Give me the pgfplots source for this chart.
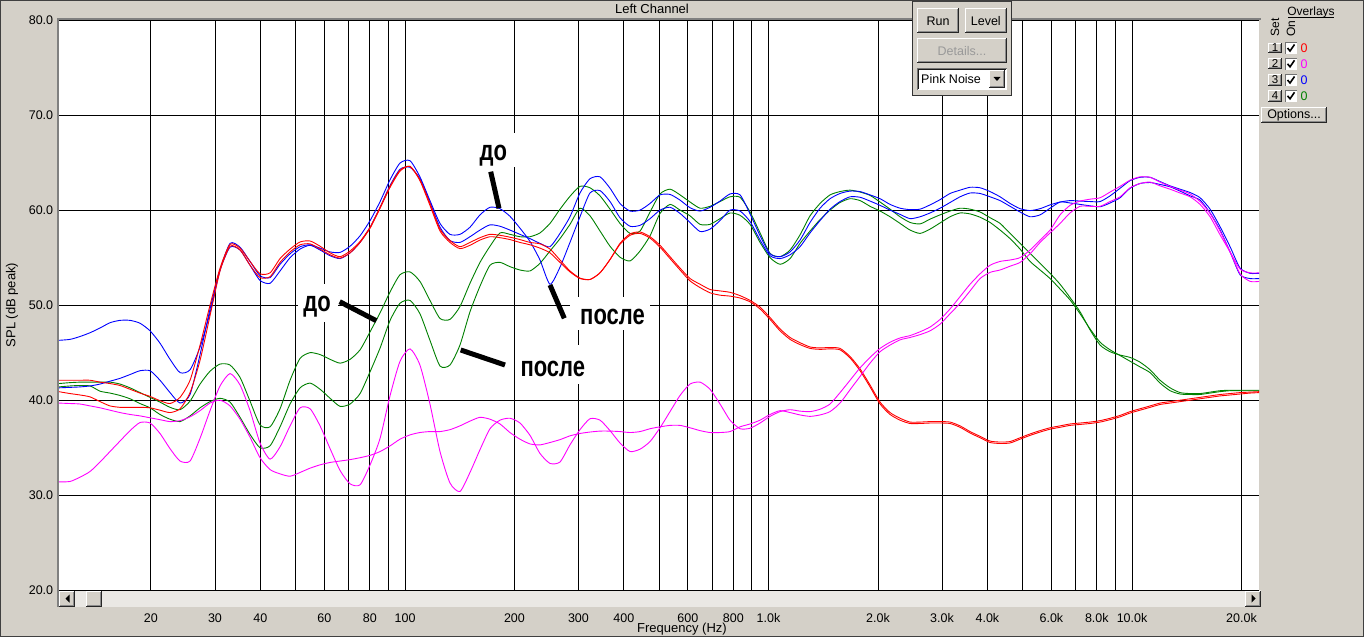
\documentclass[border=0pt]{standalone}
\usepackage{fontspec}
\setmainfont{Liberation Sans}
\usepackage{pgfplots}
\usepackage{pgfplotstable}
\pgfplotsset{compat=1.18}

\definecolor{winbg}{HTML}{D4D0C8}
\definecolor{scrollbg}{HTML}{EAE8E4}
\definecolor{mgreen}{HTML}{008000}
\definecolor{mmag}{HTML}{FF00FF}
\definecolor{mblue}{HTML}{0000FF}
\definecolor{mred}{HTML}{FF0000}

\pgfplotstableread{
f R1 R2 BA BB G1 G2 M1 M2
11.15 42.1 40.9 46.3 41.3 41.75 41.4 39.7 31.4
11.98 42.1 40.7 46.4 41.35 41.85 41.5 39.65 31.45
12.76 42.1 40.55 46.7 41.4 41.9 41.55 39.6 31.9
13.60 42.1 40.35 47.1 41.5 41.9 41.5 39.4 32.5
14.49 41.9 39.85 47.6 41.7 41.9 40.95 39.2 33.5
15.43 41.75 39.4 48.15 42.0 41.9 40.75 38.95 34.6
16.44 41.55 39.25 48.4 42.3 41.7 40.5 38.7 35.7
17.52 41.15 39.25 48.4 42.7 41.3 40.15 38.5 36.8
18.66 40.75 39.25 48.1 43.1 40.8 39.65 38.35 37.65
19.89 40.4 39.2 47.3 43.1 40.3 39.2 38.15 37.6
21.18 39.95 38.95 46.0 42.1 39.8 38.5 37.95 36.5
22.57 39.65 38.7 44.3 40.8 39.25 38.0 37.75 34.9
24.05 40.3 39.1 42.9 39.7 39.0 37.75 37.85 33.6
25.62 42.1 40.8 43.2 40.6 39.9 38.35 38.25 33.6
27.30 45.8 44.2 45.6 44.8 41.7 39.2 38.9 36.0
29.08 50.0 48.9 49.2 49.6 43.05 39.85 39.7 38.9
30.98 53.9 53.6 53.7 53.7 43.8 40.2 40.0 41.5
33.01 56.4 56.2 56.5 56.1 43.7 39.8 39.4 42.8
35.17 56.0 55.8 56.1 55.8 42.4 38.2 38.0 41.6
37.47 54.6 54.2 54.6 54.2 39.9 36.4 36.1 38.9
39.92 53.3 52.9 53.1 52.6 37.4 35.0 33.95 35.5
42.53 53.4 53.0 52.9 52.3 37.2 35.2 32.7 33.8
45.31 54.9 54.5 54.3 53.6 39.1 37.2 32.25 35.1
48.28 55.9 55.6 55.4 55.0 42.1 39.6 32.0 37.3
51.44 56.65 56.35 56.15 55.9 44.4 41.3 32.4 39.2
54.80 56.75 56.45 56.35 56.3 45.0 41.8 32.85 39.1
58.39 56.2 55.9 56.0 55.8 44.8 41.15 33.2 37.3
62.21 55.5 55.3 55.6 55.2 44.3 40.2 33.45 34.9
66.28 55.1 54.95 55.55 54.9 43.9 39.35 33.6 32.6
70.61 55.7 55.5 56.2 55.5 44.3 39.6 33.75 31.2
75.23 56.7 56.6 57.3 56.6 45.3 40.7 33.95 31.1
80.15 58.2 58.1 58.9 58.2 47.2 43.0 34.2 33.2
85.40 60.3 60.2 60.9 60.3 49.2 45.5 34.6 36.0
90.98 62.5 62.4 63.2 62.6 51.4 48.4 35.2 40.5
96.88 64.2 64.1 64.95 64.3 53.2 50.2 35.9 44.1
103.2 64.6 64.6 65.2 64.5 53.5 50.5 36.35 45.4
109.9 63.2 63.1 63.5 63.3 52.5 49.1 36.6 43.7
117.1 60.7 60.5 61.0 60.8 50.5 46.3 36.7 39.6
124.8 58.0 57.8 58.6 58.2 48.6 43.6 36.7 34.6
132.9 56.8 56.6 57.45 56.8 48.5 43.7 36.9 31.3
141.6 56.15 55.95 57.45 56.6 49.85 45.8 37.3 30.4
150.9 56.6 56.3 58.2 57.2 52.3 49.3 37.8 32.4
160.8 57.1 56.85 59.5 57.9 54.5 52.0 38.2 34.8
171.3 57.45 57.2 60.3 58.45 56.2 54.2 38.0 37.0
182.5 57.35 57.1 60.15 58.3 57.6 54.5 37.5 37.9
194.4 57.15 56.9 59.35 57.9 57.45 54.05 36.6 38.1
207.1 56.9 56.6 58.1 57.45 57.2 53.7 35.9 37.6
220.7 56.6 56.35 56.7 57.0 57.2 53.6 35.4 36.3
235.1 56.45 56.0 54.75 56.5 57.6 54.4 35.3 34.4
250.5 55.9 55.5 52.2 56.15 58.6 55.7 35.55 33.35
266.9 54.75 54.5 54.0 57.55 60.1 57.0 35.85 33.5
284.3 53.6 53.5 56.6 59.3 61.45 58.5 36.25 35.3
302.9 52.85 52.8 59.3 61.8 62.5 60.2 36.5 36.9
322.7 52.7 52.7 61.8 63.3 62.35 59.4 36.65 38.05
343.9 53.4 53.4 62.05 63.5 61.5 57.8 36.75 37.9
366.4 54.8 54.8 60.9 62.3 60.1 56.2 36.75 36.8
390.3 56.5 56.4 59.2 60.7 58.6 55.05 36.7 35.5
415.9 57.5 57.35 58.3 59.9 57.55 54.65 36.6 34.6
443.1 57.7 57.55 58.4 60.0 57.8 55.7 36.7 34.85
472.1 57.2 57.05 59.1 60.7 59.8 57.3 37.0 35.65
502.9 56.3 56.1 60.0 61.6 61.7 59.65 37.2 37.1
535.8 55.1 54.9 60.3 61.65 62.2 60.6 37.35 38.8
570.9 53.9 53.7 59.65 61.05 61.6 60.0 37.35 40.5
608.2 52.8 52.55 58.7 60.25 60.85 59.4 37.1 41.7
648.0 52.2 51.85 57.75 59.9 60.2 58.5 36.8 41.9
690.4 51.65 51.3 58.0 60.3 60.4 58.5 36.6 41.15
735.5 51.5 51.05 58.9 60.95 60.9 59.1 36.6 39.6
783.6 51.35 50.95 60.0 61.7 61.4 59.7 36.7 37.9
834.9 51.0 50.75 59.9 61.6 61.35 59.45 37.2 37.0
889.5 50.5 50.35 58.8 59.6 59.8 58.5 37.5 37.05
947.7 49.8 49.6 56.85 57.3 57.6 56.6 37.9 37.6
1009.6 48.7 48.5 55.2 55.4 55.45 55.0 38.5 38.3
1075.6 47.5 47.3 54.9 55.1 55.1 54.3 38.9 38.8
1146.0 46.6 46.4 55.3 55.6 55.8 54.9 38.7 39.0
1220.9 46.05 45.85 56.15 56.85 57.4 56.5 38.45 38.85
1300.8 45.6 45.45 57.6 58.7 59.4 57.8 38.3 38.8
1385.8 45.5 45.35 58.9 60.2 60.7 59.0 38.45 39.05
1476.5 45.55 45.4 60.1 61.2 61.6 60.0 38.8 39.6
1573.0 45.45 45.3 60.9 61.75 61.95 60.8 39.7 40.8
1675.9 44.6 44.45 61.4 62.0 62.1 61.2 41.1 42.1
1785.5 43.3 43.1 61.35 61.95 61.9 61.0 42.5 43.4
1902.3 41.6 41.4 60.95 61.6 61.55 60.4 43.9 44.5
2026.7 39.8 39.6 60.5 61.2 60.85 59.9 45.1 45.45
2159.2 38.7 38.5 60.0 60.6 60.1 59.3 45.8 46.1
2300.4 38.1 37.9 59.55 60.2 59.3 58.6 46.35 46.55
2450.9 37.7 37.55 59.1 60.05 58.7 57.9 46.6 46.8
2611.2 37.7 37.55 59.3 60.1 58.55 57.55 46.9 47.2
2781.9 37.75 37.6 59.7 60.55 59.05 58.0 47.3 47.7
2963.9 37.75 37.6 60.2 61.1 59.5 58.65 48.0 48.5
3157.7 37.7 37.55 60.8 61.75 59.9 59.3 49.1 49.6
3364.2 37.3 37.15 61.4 62.1 60.2 59.7 50.2 50.9
3584.2 36.7 36.55 61.8 62.4 60.1 59.6 51.5 52.2
3818.6 36.2 36.05 61.75 62.35 59.8 59.25 52.8 53.3
4068.3 35.7 35.55 61.4 61.95 59.2 58.7 53.45 54.2
4334.4 35.6 35.45 61.0 61.4 58.6 57.9 53.7 54.6
4617.9 35.65 35.5 60.4 60.7 57.55 57.0 54.1 54.75
4919.9 36.05 35.9 59.8 60.15 56.5 55.9 54.5 55.0
5241.6 36.45 36.3 59.3 59.95 55.45 54.6 55.4 55.8
5584.4 36.8 36.65 59.5 60.15 54.4 53.7 56.6 56.85
5949.6 37.1 36.95 60.2 60.55 53.35 52.8 57.6 57.9
6338.7 37.3 37.15 60.85 60.85 52.2 51.7 58.6 59.5
6753.2 37.5 37.35 60.75 61.0 50.8 50.55 59.7 60.5
7194.9 37.6 37.45 60.6 60.95 49.3 49.1 60.4 60.95
7665.4 37.7 37.55 60.45 60.9 47.4 47.5 60.4 61.15
8166.7 37.85 37.7 60.35 60.9 45.8 46.1 60.4 61.3
8700.8 38.1 37.95 60.75 61.5 45.1 45.3 60.9 61.9
9269.8 38.4 38.25 61.3 62.3 44.75 44.7 61.4 62.5
9876.0 38.8 38.65 62.3 63.1 44.5 44.1 62.35 63.15
10522 39.1 38.95 62.8 63.45 44.0 43.5 62.8 63.5
11210 39.4 39.25 62.9 63.45 43.2 42.9 62.95 63.45
11943 39.7 39.55 62.7 63.0 42.1 41.8 62.55 62.95
12724 39.85 39.7 62.45 62.55 41.3 41.0 62.2 62.5
13556 40.0 39.85 62.0 62.2 40.8 40.65 61.8 62.1
14443 40.15 40.0 61.5 61.85 40.7 40.6 61.4 61.7
15387 40.3 40.15 61.05 61.3 40.7 40.6 60.6 60.9
16394 40.45 40.3 59.7 60.1 40.85 40.75 59.3 59.65
17466 40.6 40.45 57.9 58.25 41.0 40.9 57.4 57.8
18608 40.7 40.55 55.6 56.15 41.05 41.0 55.6 55.6
19825 40.8 40.65 53.2 53.9 41.05 41.0 53.8 53.3
21122 40.85 40.75 52.8 53.35 41.05 41.0 53.4 52.5
22360 40.9 40.8 52.8 53.35 41.05 41.0 53.4 52.5
}\spldata

\newcommand{\rbtn}[4]{%
  \fill[winbg] (#1,#2) rectangle (#3,#4);
  \draw[white, line width=1pt] (#1+0.5,#2+1) -- (#1+0.5,#4-0.5) -- (#3-1,#4-0.5);
  \draw[black!45, line width=1pt] (#1+1,#2+1.5) -- (#3-1.5,#2+1.5) -- (#3-1.5,#4-1);
  \draw[black!85, line width=1pt] (#1,#2+0.5) -- (#3-0.5,#2+0.5) -- (#3-0.5,#4);
}

\begin{document}
\begin{tikzpicture}[x=1pt,y=1pt]
\fill[winbg] (0,0) rectangle (1364,637);
% scrollbar
\fill[scrollbg] (58.7,30.5) rectangle (1261,46.7);
\rbtn{59}{30.5}{75}{46.5}
\fill[black] (65.5,38.5) -- (69.5,42.5) -- (69.5,34.5) -- cycle;
\rbtn{86}{30.5}{102}{46.5}
\rbtn{1245}{30.5}{1261}{46.5}
\fill[black] (1255.5,38.5) -- (1251.5,42.5) -- (1251.5,34.5) -- cycle;

\begin{axis}[
  at={(58.7pt,46.7pt)}, anchor=south west,
  scale only axis, width=1200.3pt, height=570.3pt,
  xmode=log, xmin=11.15, xmax=22360, ymin=20, ymax=80,
  axis background/.style={fill=white},
  axis line style={draw=none},
  grid=major,
  major grid style={black, line width=0.9pt},
  xtick={20,30,40,50,60,70,80,90,100,200,300,400,500,600,700,800,900,1000,2000,3000,4000,5000,6000,7000,8000,9000,10000,20000},
  xticklabels={20,30,40,,60,,80,,100,200,300,400,,600,,800,,1.0k,2.0k,3.0k,4.0k,,6.0k,,8.0k,,10.0k,20.0k},
  ytick={20,30,40,50,60,70,80},
  yticklabels={20.0,30.0,40.0,50.0,60.0,70.0,80.0},
  major tick length=0pt,
  tick label style={font=\fontsize{12.5}{14}\selectfont},
  xticklabel style={anchor=base, yshift=-32.4pt},
  yticklabel style={anchor=east, xshift=-2pt},
  clip mode=individual,
]
\pgfplotsinvokeforeach{20,30,40,50,60,70,80,90,100,200,300,400,500,600,700,800,900,1000,2000,3000,4000,5000,6000,7000,8000,9000,10000,20000}{
  \draw[black, line width=0.8pt] (axis cs:#1,20) ++(0,-16.3pt) -- ++(0,-3.7pt);
}
\addplot[mgreen, line width=0.9pt, smooth, tension=0.4] table[x=f,y=G1]{\spldata};
\addplot[mgreen, line width=0.9pt, smooth, tension=0.4] table[x=f,y=G2]{\spldata};
\addplot[mblue, line width=0.9pt, smooth, tension=0.4] table[x=f,y=BA]{\spldata};
\addplot[mblue, line width=0.9pt, smooth, tension=0.4] table[x=f,y=BB]{\spldata};
\addplot[mred, line width=0.9pt, smooth, tension=0.4] table[x=f,y=R1]{\spldata};
\addplot[mred, line width=0.9pt, smooth, tension=0.4] table[x=f,y=R2]{\spldata};
\addplot[mmag, line width=0.9pt, smooth, tension=0.4] table[x=f,y=M1]{\spldata};
\addplot[mmag, line width=0.9pt, smooth, tension=0.4] table[x=f,y=M2]{\spldata};
\end{axis}

% sunken frame of plot
\draw[black!50, line width=1.6pt] (57.8,30) -- (57.8,617.8) -- (1261,617.8);

% annotations
\fill[white] (470,470) rectangle (517,504);
\fill[white] (570,307) rectangle (650,340);
\fill[white] (298,315) rectangle (338,353);
\fill[white] (515,253) rectangle (590,292);
\draw[black, line width=5pt] (490.7,465.3) -- (499,428.7);
\draw[black, line width=5pt] (550,352) -- (564.3,318.7);
\draw[black, line width=5pt] (339.7,335.3) -- (376.3,316.3);
\draw[black, line width=5pt] (460.7,287) -- (505,272);
\begin{scope}[every node/.style={font=\fontsize{22}{22}\selectfont\bfseries, inner sep=0pt}]
\node[yscale=1.3, transform shape] at (493.3,481.2) {до};
\node[yscale=1.3, transform shape] at (612.5,320.3) {после};
\node[yscale=1.3, transform shape] at (317,330.3) {до};
\node[yscale=1.3, transform shape] at (552.8,267.8) {после};
\end{scope}

% labels
\node[font=\fontsize{13}{14}\selectfont] at (652,628) {Left Channel};
\node[font=\fontsize{13}{14}\selectfont, rotate=90] at (12,332) {SPL (dB peak)};
\node[font=\fontsize{13}{14}\selectfont] at (682,7.5) {Frequency (Hz)};

% control panel
\fill[winbg] (912.3,541.3) rectangle (1011.7,637);
\draw[black!80, line width=1pt] (912.8,637) -- (912.8,541.8) -- (1011.2,541.8) -- (1011.2,637);
\fill[black!75] (913,634.5) rectangle (1011,637);
\rbtn{917.3}{603.7}{958.7}{628.7}
\rbtn{965}{603.7}{1006.7}{628.7}
\rbtn{917.3}{573.7}{1006.7}{598.7}
\node[font=\fontsize{12.5}{14}\selectfont] at (938,616.2) {Run};
\node[font=\fontsize{12.5}{14}\selectfont] at (985.8,616.2) {Level};
\node[font=\fontsize{12.5}{14}\selectfont, text=black!40] at (962,586.2) {Details...};
\fill[white] (917.3,547) rectangle (1006.7,568.7);
\draw[black!55, line width=1pt] (917.8,547) -- (917.8,568.2) -- (1006.7,568.2);
\draw[black!90, line width=1pt] (918.8,548) -- (918.8,567.2) -- (1005.7,567.2);
\rbtn{989}{549}{1005}{566.5}
\fill[black] (993.5,560) -- (1000.5,560) -- (997,556) -- cycle;
\node[font=\fontsize{12.5}{14}\selectfont, anchor=west, inner sep=0pt] at (921,557.8) {Pink Noise};

% overlays panel
\node[font=\fontsize{12}{14}\selectfont, inner sep=0pt] (ov) at (1311,625) {Overlays};
\draw[black, line width=0.8pt] (1288,619.3) -- (1334,619.3);
\node[font=\fontsize{12}{14}\selectfont, rotate=90] at (1275,609.5) {Set};
\node[font=\fontsize{12}{14}\selectfont, rotate=90] at (1291,608.5) {On};
\rbtn{1268}{583.7}{1282}{594.3}
\rbtn{1268}{567.7}{1282}{578.7}
\rbtn{1268}{551}{1282}{563}
\rbtn{1268}{535.3}{1282}{547}
\node[font=\fontsize{11.5}{12}\selectfont] at (1275,589) {1};
\node[font=\fontsize{11.5}{12}\selectfont] at (1275,573.2) {2};
\node[font=\fontsize{11.5}{12}\selectfont] at (1275,557) {3};
\node[font=\fontsize{11.5}{12}\selectfont] at (1275,541.2) {4};
\foreach \yy in {589,573.2,557,541.2} {
  \fill[white] (1285,\yy-6) rectangle (1297,\yy+6);
  \draw[black!55, line width=0.8pt] (1285.4,\yy-6) -- (1285.4,\yy+5.6) -- (1297,\yy+5.6);
  \draw[black, line width=1.6pt] (1287.5,\yy) -- (1290,\yy-3) -- (1294.5,\yy+3.5);
}
\node[font=\fontsize{12.5}{14}\selectfont, text=mred] at (1304,589) {0};
\node[font=\fontsize{12.5}{14}\selectfont, text=mmag] at (1304,573.2) {0};
\node[font=\fontsize{12.5}{14}\selectfont, text=mblue] at (1304,557) {0};
\node[font=\fontsize{12.5}{14}\selectfont, text=mgreen] at (1304,541.2) {0};
\rbtn{1261}{514}{1327}{530}
\node[font=\fontsize{12.5}{14}\selectfont] at (1294,522) {Options...};

% window border
\draw[black!75, line width=1pt] (0.5,0.5) rectangle (1363.5,636.5);
\pgfresetboundingbox
\path (0,0) rectangle (1364,637);
\end{tikzpicture}
\end{document}
